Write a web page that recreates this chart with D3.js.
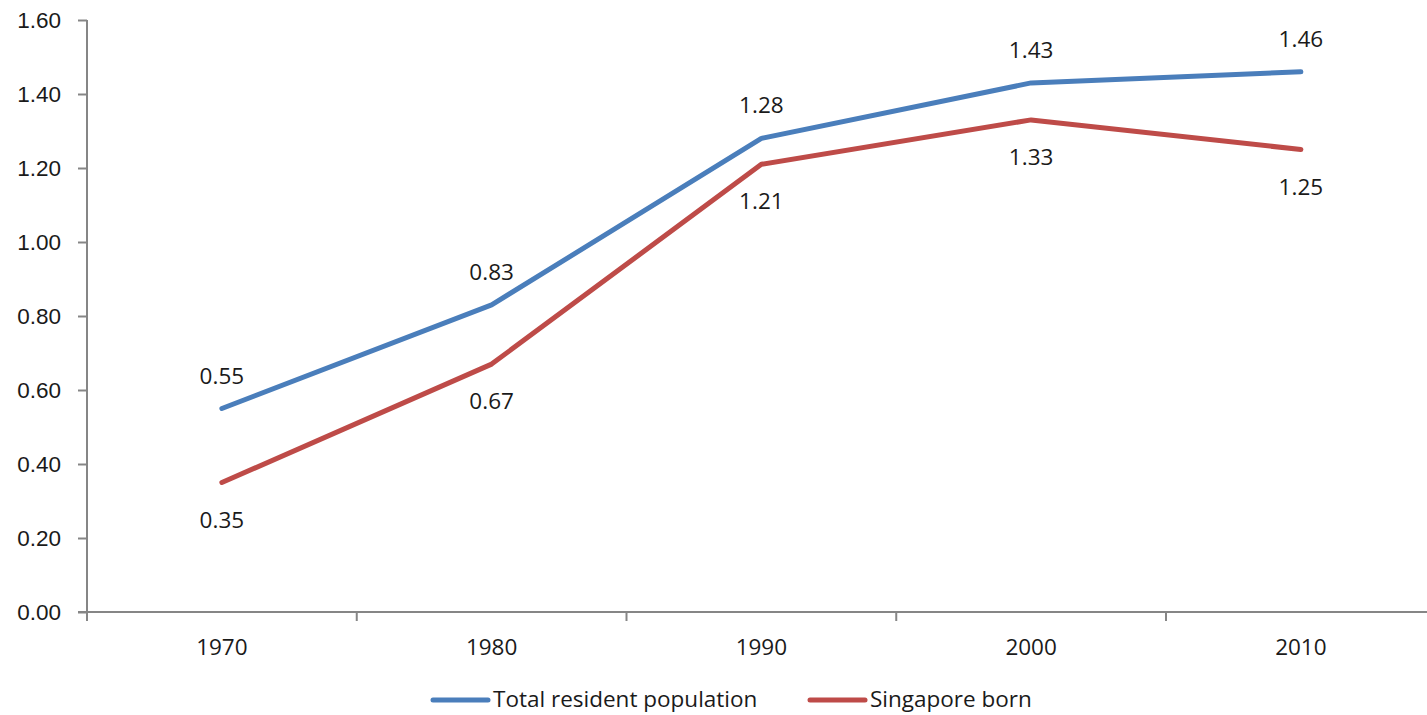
<!DOCTYPE html>
<html>
<head>
<meta charset="utf-8">
<script src="https://cdn.jsdelivr.net/npm/d3@7"></script>
<style>
  body { margin: 0; background: #fff; }
  svg { display: block; font-family: "Open Sans", "Noto Sans", sans-serif; }
</style>
</head>
<body>
<svg id="chart" width="1427" height="715"></svg>
<script>
// Census years and ratios for each population group
const years = ["1970", "1980", "1990", "2000", "2010"];
const totalResident = [0.55, 0.83, 1.28, 1.43, 1.46];
const singaporeBorn = [0.35, 0.67, 1.21, 1.33, 1.25];
const yTicks = [0, 0.2, 0.4, 0.6, 0.8, 1.0, 1.2, 1.4, 1.6];
const seriesNames = ["Total resident population", "Singapore born"];
const seriesColors = ["#4A7EBB", "#BE4B48"];

const svg = d3.select("#chart");
const plotLeft = 87, plotTop = 20, plotBottom = 612, band = 269.75;
const fontSize = "22.5px";

const x = d3.scaleBand().domain(years).range([plotLeft, plotLeft + band * years.length]).padding(0);
const y = d3.scaleLinear().domain([0, 1.6]).range([plotBottom, plotTop]);

const axisColor = "#868686";
const textColor = "#1a1a1a";

// Y axis
const yAxis = svg.append("g").attr("transform", `translate(${plotLeft},0)`)
  .call(d3.axisLeft(y).tickValues(yTicks).tickFormat(d3.format(".2f")).tickSize(9).tickPadding(17));
yAxis.select(".domain").attr("stroke", axisColor).attr("stroke-width", 2).attr("d", `M0,${plotTop}V${plotBottom}`);
yAxis.selectAll(".tick line").attr("stroke", axisColor).attr("stroke-width", 2);
yAxis.selectAll(".tick text").attr("fill", textColor).style("font-size", fontSize);

// X axis with tick marks at category boundaries
const xg = svg.append("g").attr("transform", `translate(0,${plotBottom})`);
xg.append("line").attr("x1", plotLeft - 9).attr("x2", 1427).attr("y1", 0).attr("y2", 0)
  .attr("stroke", axisColor).attr("stroke-width", 2);
xg.selectAll(".bound").data(years).join("line")
  .attr("x1", d => x(d)).attr("x2", d => x(d)).attr("y1", 0).attr("y2", 9)
  .attr("stroke", axisColor).attr("stroke-width", 2);
xg.selectAll(".lab").data(years).join("text")
  .attr("x", d => x(d) + x.bandwidth() / 2).attr("y", 43)
  .attr("text-anchor", "middle").attr("fill", textColor).style("font-size", fontSize)
  .text(d => d);

// Lines
const allSeries = [totalResident, singaporeBorn];
const line = d3.line().x((d, i) => x(years[i]) + x.bandwidth() / 2).y(d => y(d));
allSeries.forEach((vals, s) => {
  svg.append("path").datum(vals).attr("d", line)
    .attr("fill", "none").attr("stroke", seriesColors[s]).attr("stroke-width", 5)
    .attr("stroke-linecap", "round").attr("stroke-linejoin", "round");
});

// Value labels: above for total, below for Singapore born
const fmt = d3.format(".2f");
svg.selectAll(".lblT").data(totalResident).join("text")
  .attr("x", (d, i) => x(years[i]) + x.bandwidth() / 2).attr("y", d => y(d) - 25)
  .attr("text-anchor", "middle").attr("fill", textColor).style("font-size", fontSize).text(fmt);
svg.selectAll(".lblS").data(singaporeBorn).join("text")
  .attr("x", (d, i) => x(years[i]) + x.bandwidth() / 2).attr("y", d => y(d) + 45)
  .attr("text-anchor", "middle").attr("fill", textColor).style("font-size", fontSize).text(fmt);

// Legend
const legendX = [433, 810];
seriesNames.forEach((name, s) => {
  const g = svg.append("g").attr("transform", `translate(${legendX[s]},700)`);
  g.append("line").attr("x1", 0).attr("x2", 55).attr("y1", 0).attr("y2", 0)
    .attr("stroke", seriesColors[s]).attr("stroke-width", 5).attr("stroke-linecap", "round");
  g.append("text").attr("x", 60).attr("y", 7).attr("fill", textColor).style("font-size", fontSize).text(name);
});
</script>
</body>
</html>
